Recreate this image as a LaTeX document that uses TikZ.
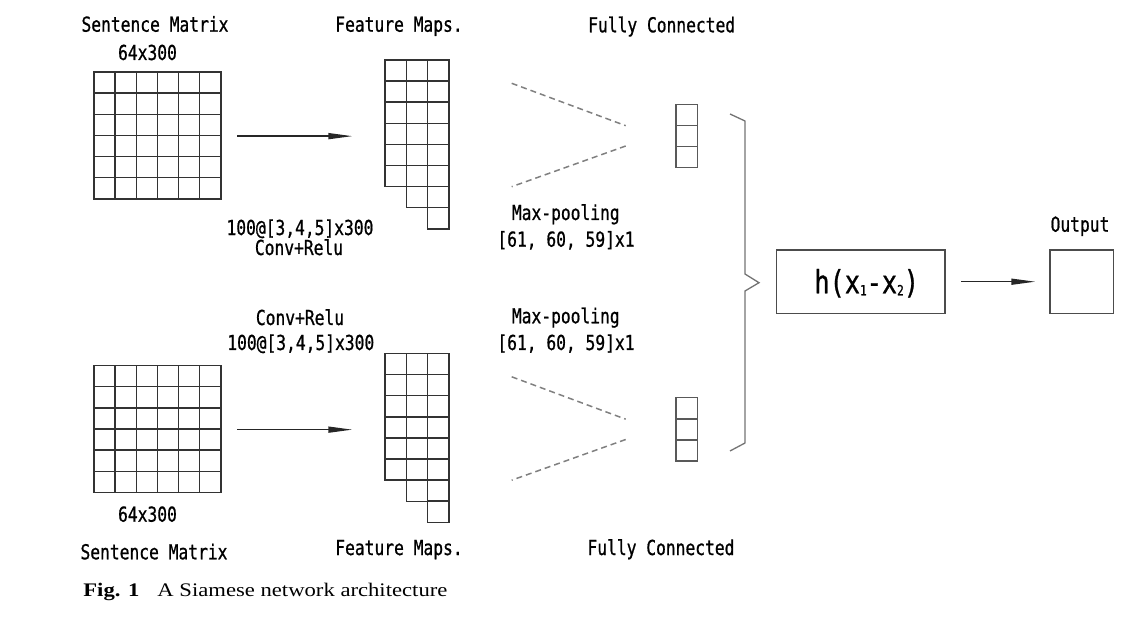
\documentclass[tikz,border=0pt]{standalone}
\usepackage{fontspec}
\usepackage{tikz}
\usetikzlibrary{arrows.meta}
\usetikzlibrary{positioning}
\newfontfamily\lblfont[FakeStretch=0.79,FakeBold=0.8]{DejaVu Sans Mono}
\newfontfamily\capfont[FakeStretch=1.18]{Liberation Serif}

\begin{document}
\begin{tikzpicture}[x=0.5pt, y=-0.5pt,
    cell/.style={draw=black!80, line width=0.7pt, minimum size=10.575pt, inner sep=0pt},
    lbl/.style={anchor=base, inner sep=0pt, text=black, font=\lblfont\fontsize{10.3}{12}\selectfont},
    pool/.style={draw=black!50, line width=0.75pt, dash pattern=on 3pt off 2pt},
    arr/.style={draw=black!85, line width=0.7pt, -{Triangle[length=12pt,width=3pt]}},
    box/.style={draw=black!70, line width=0.7pt, inner sep=0pt}]

      \useasboundingbox (0,0) rectangle (1148,626);

      % upper and lower branch
      \foreach \r/\dy in {1/0, 2/293.5} {
        \foreach \i in {1,...,6}
          \foreach \j in {1,...,6}
            \node [cell] (sm\r-\i-\j) at ({94+21.15*(\i-0.5)}, {72+\dy+21.15*(\j-0.5)}) {};
        \foreach \i/\n in {1/6, 2/7, 3/8}
          \foreach \j in {1,...,\n}
            \node [cell] (fm\r-\i-\j) at ({385+21.3*(\i-0.5)}, {60+\dy+21.1*(\j-0.5)}) {};
        \foreach \j in {1,2,3}
          \node [cell, draw=black!65] (fc\r-\j) at (686.7, {104.3+\dy+21*(\j-0.5)}) {};

        \coordinate (pa\r) at (511.7, {83.3+\dy});
        \coordinate (pb\r) at (625.7, {125.7+\dy});
        \coordinate (pc\r) at (625.7, {146+\dy});
        \coordinate (pd\r) at (511.7, {186.7+\dy});

        \draw [arr, shorten <=7.85pt, shorten >=16pt] (sm\r-6-3.south east) -- (sm\r-6-3.south east -| fm\r-1-1.west);
        \draw [pool] (pa\r) -- (pb\r);
        \draw [pool] (pc\r) -- (pd\r);
      }

      % labels
      \node [lbl] (sm1lbl) at (155, 31.7) {Sentence Matrix};
      \node [lbl] (sm1dim) at (147.5, 60) {64x300};
      \node [lbl] (fm1lbl) at (399, 31.7) {Feature Maps.};
      \node [lbl] (fc1lbl) at (661.7, 32.3) {Fully Connected};
      \node [lbl] (cv1a) at (300, 235) {100@[3,4,5]x300};
      \node [lbl] (cv1b) at (299, 255) {Conv+Relu};
      \node [lbl] (mp1a) at (565.8, 220) {Max-pooling};
      \node [lbl] (mp1b) at (566, 246.7) {[61, 60, 59]x1};

      \node [lbl] (cv2b) at (300, 325) {Conv+Relu};
      \node [lbl] (cv2a) at (300.8, 350) {100@[3,4,5]x300};
      \node [lbl] (mp2a) at (565.8, 323.3) {Max-pooling};
      \node [lbl] (mp2b) at (566, 350) {[61, 60, 59]x1};
      \node [lbl] (sm2dim) at (147.5, 521.7) {64x300};
      \node [lbl] (sm2lbl) at (154, 559.3) {Sentence Matrix};
      \node [lbl] (fm2lbl) at (399, 555) {Feature Maps.};
      \node [lbl] (fc2lbl) at (661, 555) {Fully Connected};

      % brace joining both branches
      \draw [draw=black!55, line width=0.65pt] (730, 114) -- (745, 121) -- (745, 274) -- (759, 282.7)
        -- (745, 291) -- (745, 443) -- (730, 451);

      \node [box, minimum width=84.15pt, minimum height=31.65pt] (dist) at (860.85, 281.7) {};
      \node [lbl, font=\lblfont\fontsize{16}{18}\selectfont] (distlbl) at (866.7, 293.3)
        {h(x\raisebox{-1pt}{\fontsize{7}{8}\selectfont 1}-x\raisebox{-1pt}{\fontsize{7}{8}\selectfont 2})};
      \node [box, minimum size=31.65pt] (out) at (1081.7, 281.7) {};
      \node [lbl] (outlbl) at (1080, 231.7) {Output};

      \draw [arr, shorten <=7.85pt, shorten >=7pt] (dist) -- (out);

      \node [anchor=base west, inner sep=0pt, font=\capfont\fontsize{9.6}{11}\selectfont] (cap) at (83, 596)
        {\textbf{Fig. 1}\hspace{9pt}A Siamese network architecture};
\end{tikzpicture}
\end{document}
